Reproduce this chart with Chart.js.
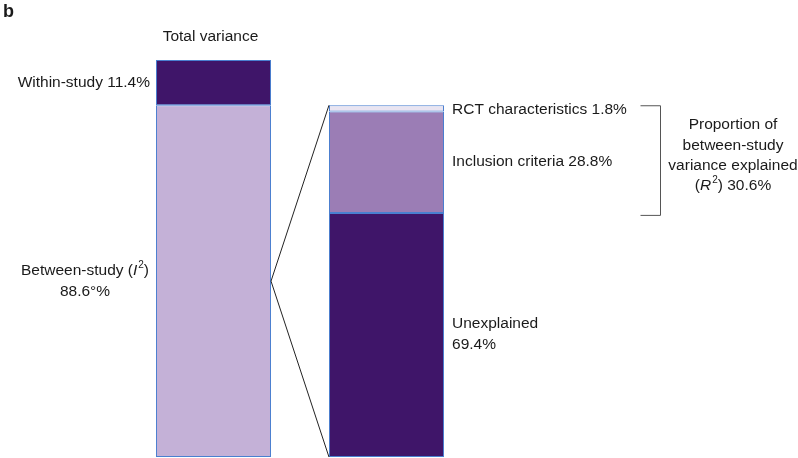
<!DOCTYPE html>
<html>
<head>
<meta charset="utf-8">
<script src="https://cdn.jsdelivr.net/npm/chart.js@4"></script>
<style>
  html, body { margin: 0; padding: 0; background: #fff; }
  #wrap { width: 798px; height: 458px; position: relative; }
</style>
</head>
<body>
<div id="wrap"><canvas id="varChart"></canvas></div>
<script>
// ── Data ─────────────────────────────────────────────
const barLabels      = ["Total variance", "Between-study"];
const totalSplit     = { within: 11.4, between: 88.6 };           // % of total variance
const betweenSplit   = { rct: 1.8, inclusion: 28.8, unexplained: 69.4 }; // % of between-study
const explainedR2    = 30.6;

// right bar is drawn on the same scale as the between-study block
const k = totalSplit.between / 100;

const FONT = '"Liberation Sans", Arial, sans-serif';
const FS = 15.5;
const BORDER = '#4a7fd0';

// ── Annotation plugin: labels, zoom lines, bracket ──
const annotate = {
    id: 'annotate',
    afterDatasetsDraw(chart) {
        const ctx = chart.ctx;
        const y = chart.scales.y;
        const barL = chart.getDatasetMeta(0).data[0];
        const barR = chart.getDatasetMeta(2).data[1];
        const lRight = barL.x + barL.width / 2;
        const lCenter = barL.x;
        const rLeft = barR.x - barR.width / 2;
        const rRight = barR.x + barR.width / 2;

        ctx.save();
        ctx.fillStyle = '#1a1a1a';
        ctx.textBaseline = 'middle';

        // panel letter
        ctx.font = 'bold 18px ' + FONT;
        ctx.textAlign = 'left';
        ctx.fillText('b', 3, 12);

        ctx.font = FS + 'px ' + FONT;
        ctx.textAlign = 'center';
        ctx.fillText(barLabels[0], lCenter - 3, 37);

        // left labels
        ctx.textAlign = 'right';
        const midWithin = y.getPixelForValue(100 - totalSplit.within / 2);
        ctx.fillText('Within-study ' + totalSplit.within + '%', lRight - 121, midWithin);

        const midBetween = y.getPixelForValue(totalSplit.between / 2);
        drawSup(ctx, 'Between-study (', 'I', '2', ')', 85, midBetween - 10);
        ctx.textAlign = 'center';
        ctx.fillText(totalSplit.between + '°%', 85, midBetween + 11);

        // right bar labels
        ctx.textAlign = 'left';
        const tx = rRight + 8;
        ctx.fillText('RCT characteristics ' + betweenSplit.rct + '%', tx, y.getPixelForValue(totalSplit.between) + 4);
        ctx.fillText('Inclusion criteria ' + betweenSplit.inclusion + '%', tx, 162);
        ctx.fillText('Unexplained', tx, 324);
        ctx.fillText(betweenSplit.unexplained + '%', tx, 345);

        // zoom lines
        ctx.strokeStyle = '#222';
        ctx.lineWidth = 1;
        ctx.beginPath();
        ctx.moveTo(lRight, midBetween);
        ctx.lineTo(rLeft, y.getPixelForValue(totalSplit.between));
        ctx.moveTo(lRight, midBetween);
        ctx.lineTo(rLeft, y.getPixelForValue(0));
        ctx.stroke();

        // bracket
        const bTop = y.getPixelForValue(totalSplit.between);
        const bBot = y.getPixelForValue(k * betweenSplit.unexplained) + 2;
        ctx.strokeStyle = '#555';
        ctx.beginPath();
        ctx.moveTo(640.5, bTop + 0.5);
        ctx.lineTo(660.5, bTop + 0.5);
        ctx.lineTo(660.5, bBot + 0.5);
        ctx.lineTo(640.5, bBot + 0.5);
        ctx.stroke();

        ctx.textAlign = 'center';
        ctx.fillText('Proportion of', 733, 125);
        ctx.fillText('between-study', 733, 146);
        ctx.fillText('variance explained', 733, 166);
        drawSup(ctx, '(', 'R', '2', ') ' + explainedR2 + '%', 733, 186);

        ctx.restore();
    }
};

function drawSup(ctx, pre, ital, sup, post, cx, cy) {
    const base = FS + 'px ' + FONT;
    const it = 'italic ' + FS + 'px ' + FONT;
    const sm = '10px ' + FONT;
    ctx.font = base; const w1 = ctx.measureText(pre).width;
    ctx.font = it;   const w2 = ctx.measureText(ital).width + 1;
    ctx.font = sm;   const w3 = ctx.measureText(sup).width;
    ctx.font = base; const w4 = ctx.measureText(post).width;
    let x = cx - (w1 + w2 + w3 + w4) / 2;
    ctx.textAlign = 'left';
    ctx.font = base; ctx.fillText(pre, x, cy); x += w1;
    ctx.font = it;   ctx.fillText(ital, x, cy); x += w2;
    ctx.font = sm;   ctx.fillText(sup, x, cy - 6); x += w3;
    ctx.font = base; ctx.fillText(post, x, cy);
}

new Chart(document.getElementById('varChart'), {
    type: 'bar',
    data: {
        labels: barLabels,
        datasets: [
            { label: 'Between-study', data: [totalSplit.between, null], backgroundColor: '#c4b1d7' },
            { label: 'Within-study',  data: [totalSplit.within, null],  backgroundColor: '#3f1569' },
            { label: 'Unexplained',   data: [null, k * betweenSplit.unexplained], backgroundColor: '#3f1569' },
            { label: 'Inclusion criteria', data: [null, k * betweenSplit.inclusion], backgroundColor: '#9b7db5' },
            { label: 'RCT characteristics', data: [null, k * betweenSplit.rct], backgroundColor: '#e9e4f1' }
        ].map(d => Object.assign(d, {
            borderColor: BORDER, borderWidth: 1, borderSkipped: false,
            categoryPercentage: 1, barPercentage: 0.665
        }))
    },
    options: {
        responsive: true,
        maintainAspectRatio: false,
        animation: false,
        layout: { padding: { left: 127, right: 325, top: 60, bottom: 1 } },
        plugins: { legend: { display: false }, tooltip: { enabled: false } },
        scales: {
            x: { stacked: true, display: false },
            y: { stacked: true, display: false, min: 0, max: 100 }
        }
    },
    plugins: [annotate]
});
</script>
</body>
</html>
